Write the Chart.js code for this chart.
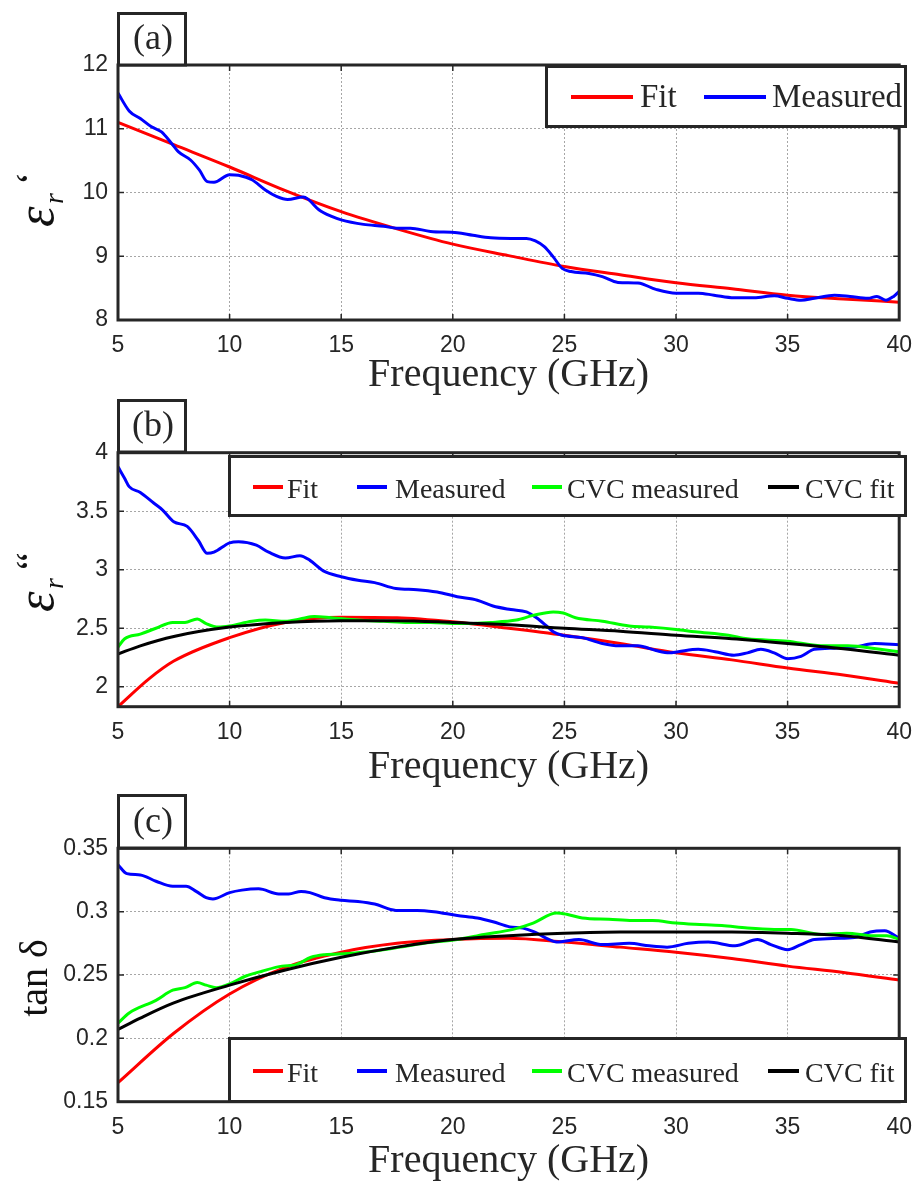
<!DOCTYPE html>
<html>
<head>
<meta charset="utf-8">
<script src="https://cdn.jsdelivr.net/npm/chart.js@4.4.1/dist/chart.umd.min.js"></script>
<style>
  body { margin: 0; background: #fff; }
  canvas.panel { position: absolute; left: 0; }
</style>
</head>
<body>
<canvas id="panelA" class="panel" width="924" height="395" style="top:0px"></canvas>
<canvas id="panelB" class="panel" width="924" height="395" style="top:395px"></canvas>
<canvas id="panelC" class="panel" width="924" height="395" style="top:790px"></canvas>
<script>
let xTicks = [5, 10, 15, 20, 25, 30, 35, 40];

// (a) real part of permittivity
let yTicksA = [8, 9, 10, 11, 12];
let freqA_meas = [5.0, 5.5, 6.0, 6.5, 6.95, 7.4, 7.7, 8.25, 8.65, 9.0, 9.3, 10.0, 10.4, 11.0, 11.6, 12.1, 12.6, 13.3, 13.5, 14.0, 14.6, 15.0, 16.0, 16.9, 17.5, 18.1, 19.0, 20.2, 20.9, 21.7, 22.6, 23.3, 23.7, 24.1, 24.5, 24.9, 25.3, 26.1, 26.7, 27.4, 28.3, 29.1, 30.0, 31.0, 31.7, 32.6, 33.5, 34.4, 35.0, 35.6, 36.2, 37.1, 37.8, 38.6, 39.0, 39.4, 39.75, 40.0];
let epsA_meas = [11.56, 11.28, 11.16, 11.03, 10.95, 10.77, 10.64, 10.51, 10.35, 10.17, 10.16, 10.28, 10.27, 10.2, 10.04, 9.94, 9.89, 9.93, 9.9, 9.73, 9.62, 9.57, 9.5, 9.47, 9.44, 9.44, 9.39, 9.37, 9.33, 9.29, 9.28, 9.28, 9.24, 9.15, 8.99, 8.81, 8.76, 8.73, 8.68, 8.59, 8.58, 8.48, 8.42, 8.42, 8.39, 8.35, 8.35, 8.38, 8.34, 8.31, 8.34, 8.39, 8.37, 8.34, 8.37, 8.31, 8.37, 8.45];
let freqA_fit = [5, 7.5, 10, 12.5, 15, 17.5, 20, 22.5, 25, 27.5, 30, 32.5, 35, 37.5, 40];
let epsA_fit = [11.10, 10.75, 10.40, 10.03, 9.70, 9.43, 9.19, 9.01, 8.84, 8.71, 8.585, 8.49, 8.39, 8.33, 8.28];

// (b) imaginary part of permittivity
let yTicksB = [2, 2.5, 3, 3.5, 4];
let freqB_meas = [5.0, 5.3, 5.5, 6.0, 6.6, 7.0, 7.5, 8.1, 8.6, 9.0, 9.3, 10.0, 10.4, 11.2, 11.75, 12.5, 13.15, 13.6, 14.2, 15.0, 15.75, 16.5, 17.45, 18.4, 19.3, 20.2, 21.1, 21.8, 22.6, 23.3, 23.75, 24.2, 24.5, 24.9, 25.8, 26.7, 27.45, 28.3, 29.1, 29.7, 30.1, 31.0, 31.75, 32.6, 33.2, 33.8, 34.4, 35.0, 35.6, 36.2, 37.1, 38.0, 38.9, 40.0];
let epsB_meas = [3.88, 3.78, 3.71, 3.66, 3.57, 3.51, 3.41, 3.37, 3.25, 3.14, 3.15, 3.23, 3.24, 3.21, 3.15, 3.10, 3.12, 3.08, 2.99, 2.94, 2.91, 2.89, 2.84, 2.83, 2.81, 2.77, 2.74, 2.69, 2.66, 2.64, 2.59, 2.52, 2.47, 2.44, 2.42, 2.37, 2.35, 2.35, 2.31, 2.29, 2.30, 2.32, 2.30, 2.27, 2.29, 2.32, 2.29, 2.24, 2.26, 2.32, 2.33, 2.34, 2.37, 2.36];
let freqB_fit = [5, 6.4, 7.5, 10, 12.5, 15, 17.5, 20, 22.5, 25, 27.5, 30, 32.5, 35, 37.5, 40];
let epsB_fit = [1.83, 2.07, 2.22, 2.42, 2.55, 2.595, 2.59, 2.555, 2.50, 2.44, 2.37, 2.29, 2.23, 2.16, 2.10, 2.03];
let freqB_cvcMeas = [5.0, 5.3, 6.0, 6.7, 7.45, 8.0, 8.55, 8.95, 9.5, 10.0, 11.0, 11.6, 12.5, 13.15, 13.8, 14.55, 15.75, 16.9, 18.0, 19.0, 20.2, 21.7, 22.85, 23.6, 24.5, 24.95, 25.5, 26.7, 27.9, 28.8, 30.0, 30.85, 32.35, 33.2, 35.0, 36.5, 37.7, 39.15, 40.0];
let epsB_cvcMeas = [2.34, 2.41, 2.45, 2.50, 2.55, 2.55, 2.58, 2.54, 2.51, 2.52, 2.56, 2.57, 2.56, 2.58, 2.60, 2.59, 2.57, 2.56, 2.55, 2.55, 2.54, 2.55, 2.57, 2.61, 2.64, 2.63, 2.59, 2.56, 2.52, 2.51, 2.49, 2.47, 2.44, 2.41, 2.39, 2.35, 2.35, 2.32, 2.30];
let freqB_cvcFit = [5, 6, 7.5, 10, 12.5, 15, 17.5, 20, 22.5, 25, 27.5, 30, 32.5, 35, 37.5, 40];
let epsB_cvcFit = [2.28, 2.35, 2.43, 2.51, 2.55, 2.565, 2.565, 2.55, 2.53, 2.50, 2.475, 2.44, 2.41, 2.37, 2.325, 2.27];

// (c) loss tangent
let yTicksC = [0.15, 0.2, 0.25, 0.3, 0.35];
let freqC_meas = [5.0, 5.4, 6.0, 6.7, 7.45, 8.05, 8.5, 8.95, 9.25, 10.0, 10.55, 11.3, 12.2, 12.65, 13.2, 13.6, 14.25, 15.0, 15.75, 16.5, 17.45, 18.4, 19.15, 20.2, 21.1, 21.8, 22.55, 23.15, 23.65, 24.2, 24.65, 25.65, 26.7, 27.9, 28.8, 29.6, 30.55, 31.45, 32.65, 33.65, 34.25, 35.0, 35.6, 36.2, 37.4, 38.1, 38.7, 39.35, 40.0];
let tanC_meas = [0.337, 0.330, 0.329, 0.324, 0.320, 0.320, 0.316, 0.311, 0.310, 0.315, 0.317, 0.318, 0.314, 0.314, 0.316, 0.315, 0.311, 0.309, 0.308, 0.306, 0.301, 0.301, 0.300, 0.297, 0.295, 0.292, 0.288, 0.287, 0.284, 0.279, 0.276, 0.278, 0.274, 0.275, 0.273, 0.272, 0.275, 0.276, 0.273, 0.278, 0.274, 0.270, 0.274, 0.278, 0.279, 0.280, 0.284, 0.285, 0.279];
let freqC_fit = [5, 7.5, 10, 12.5, 15, 17.5, 20, 22.5, 25, 27.5, 30, 32.5, 35, 37.5, 40];
let tanC_fit = [0.165, 0.204, 0.235, 0.256, 0.268, 0.275, 0.278, 0.279, 0.276, 0.272, 0.268, 0.263, 0.257, 0.252, 0.246];
let freqC_cvcMeas = [5.0, 5.5, 6.7, 7.45, 8.0, 8.55, 8.95, 9.4, 10.0, 10.7, 11.45, 12.35, 12.95, 13.65, 14.25, 15.3, 16.5, 17.65, 18.7, 20.2, 21.4, 22.7, 23.6, 24.65, 25.1, 25.8, 27.0, 28.05, 28.95, 30.0, 30.85, 32.05, 33.2, 34.4, 35.15, 36.5, 37.65, 38.85, 39.45, 40.0];
let tanC_cvcMeas = [0.212, 0.220, 0.230, 0.238, 0.240, 0.244, 0.242, 0.240, 0.243, 0.249, 0.253, 0.257, 0.258, 0.264, 0.266, 0.267, 0.269, 0.272, 0.275, 0.278, 0.282, 0.286, 0.291, 0.299, 0.298, 0.295, 0.294, 0.293, 0.293, 0.291, 0.290, 0.289, 0.287, 0.286, 0.286, 0.282, 0.283, 0.281, 0.281, 0.278];
let freqC_cvcFit = [5, 6, 7.5, 10, 12.5, 15, 17.5, 20, 22.5, 25, 27.5, 30, 32.5, 35, 37.5, 40];
let tanC_cvcFit = [0.207, 0.216, 0.228, 0.242, 0.254, 0.264, 0.272, 0.278, 0.281, 0.283, 0.284, 0.284, 0.284, 0.283, 0.281, 0.276];


let ink = "#262626";
let gridColor = "#a6a6a6";
Chart.defaults.font.family = "'Liberation Sans', Arial, sans-serif";

function pairs(xs, ys) {
  return xs.map((x, i) => ({ x: x, y: ys[i] }));
}

function serie(label, color, xs, ys, order) {
  return {
    label: label,
    data: pairs(xs, ys),
    borderColor: color,
    backgroundColor: color,
    borderWidth: 3,
    pointRadius: 0,
    fill: false,
    cubicInterpolationMode: "monotone",
    order: order,
  };
}

// y axis titles, drawn by hand for the subscript
function drawEps(ctx, bx, by, marks) {
  ctx.save();
  ctx.translate(bx, by);
  ctx.rotate(-Math.PI / 2);
  ctx.fillStyle = "#111";
  ctx.textAlign = "left";
  ctx.textBaseline = "alphabetic";
  ctx.font = "italic 52px 'Liberation Serif'";
  ctx.fillText("ε", 0, 0);
  ctx.font = "italic 28px 'Liberation Serif'";
  ctx.fillText("r", 23, 10);
  ctx.font = "40px 'Liberation Serif'";
  ctx.fillText(marks, 42, -9);
  ctx.restore();
}

function drawTan(ctx, bx, cy) {
  ctx.save();
  ctx.translate(bx, cy);
  ctx.rotate(-Math.PI / 2);
  ctx.fillStyle = "#111";
  ctx.textAlign = "center";
  ctx.textBaseline = "alphabetic";
  ctx.font = "40px 'Liberation Serif'";
  ctx.fillText("tan δ", 0, 0);
  ctx.restore();
}

function makeDecor(cfg) {
  return {
    id: "decor" + cfg.tag,
    afterDatasetsDraw(chart) {
      let ctx = chart.ctx;
      let area = chart.chartArea;
      let sx = chart.scales.x;
      let sy = chart.scales.y;
      ctx.save();

      // small inward ticks like matlab
      ctx.strokeStyle = ink;
      ctx.lineWidth = 1.5;
      ctx.beginPath();
      sx.ticks.forEach((t) => {
        let px = sx.getPixelForValue(t.value);
        ctx.moveTo(px, area.bottom);
        ctx.lineTo(px, area.bottom - 6);
        ctx.moveTo(px, area.top);
        ctx.lineTo(px, area.top + 6);
      });
      sy.ticks.forEach((t) => {
        let py = sy.getPixelForValue(t.value);
        ctx.moveTo(area.left, py);
        ctx.lineTo(area.left + 6, py);
        ctx.moveTo(area.right, py);
        ctx.lineTo(area.right - 6, py);
      });
      ctx.stroke();

      // plot box
      ctx.lineWidth = 3;
      ctx.strokeRect(area.left, area.top, area.right - area.left, area.bottom - area.top);

      // panel tag
      ctx.fillStyle = "#fff";
      ctx.fillRect(118.5, cfg.tagBox[0] + 1.5, 67, cfg.tagBox[1] - cfg.tagBox[0] - 1.5);
      ctx.strokeRect(118.5, cfg.tagBox[0] + 1.5, 67, cfg.tagBox[1] - cfg.tagBox[0] - 1.5);
      ctx.fillStyle = ink;
      ctx.font = "36px 'Liberation Serif'";
      ctx.textAlign = "center";
      ctx.textBaseline = "middle";
      ctx.fillText(cfg.tag, 153, cfg.tagY);

      // legend
      let lg = cfg.legend;
      let b = lg.box;
      ctx.fillStyle = "#fff";
      ctx.fillRect(b[0] + 1.5, b[1] + 1.5, b[2] - b[0] - 3, b[3] - b[1] - 3);
      ctx.strokeStyle = ink;
      ctx.lineWidth = 3;
      ctx.strokeRect(b[0] + 1.5, b[1] + 1.5, b[2] - b[0] - 3, b[3] - b[1] - 3);
      ctx.font = lg.size + "px 'Liberation Serif'";
      ctx.textAlign = "left";
      ctx.textBaseline = "alphabetic";
      chart.data.datasets.forEach((ds, i) => {
        let e = lg.entries[i];
        ctx.strokeStyle = ds.borderColor;
        ctx.lineWidth = 4;
        ctx.beginPath();
        ctx.moveTo(e[0], lg.lineY);
        ctx.lineTo(e[1], lg.lineY);
        ctx.stroke();
        ctx.fillStyle = ink;
        ctx.fillText(ds.label, e[2], lg.textY);
      });

      // y title
      if (cfg.yTitle.kind == "eps") {
        drawEps(ctx, cfg.yTitle.bx, cfg.yTitle.by, cfg.yTitle.marks);
      } else {
        drawTan(ctx, cfg.yTitle.bx, cfg.yTitle.by);
      }
      ctx.restore();
    },
  };
}

function makePanel(cfg) {
  return new Chart(document.getElementById(cfg.id), {
    type: "line",
    data: { datasets: cfg.datasets },
    options: {
      responsive: false,
      animation: false,
      devicePixelRatio: 1,
      layout: { padding: { top: cfg.top, right: 18, left: 0, bottom: 0 } },
      plugins: { legend: { display: false }, tooltip: { enabled: false } },
      scales: {
        x: {
          type: "linear",
          min: 5,
          max: 40,
          afterBuildTicks: (s) => { s.ticks = xTicks.map((v) => ({ value: v })); },
          afterFit: (s) => { s.height = 395 - cfg.bottom; },
          grid: { color: gridColor, lineWidth: 1, drawTicks: false },
          border: { display: false, dash: [2, 2] },
          ticks: {
            padding: 12,
            color: ink,
            maxRotation: 0,
            autoSkip: false,
            font: { family: "'Liberation Sans'", size: 23 },
          },
          title: {
            display: true,
            text: "Frequency (GHz)",
            color: ink,
            font: { family: "'Liberation Serif'", size: 40, lineHeight: 1 },
            padding: { top: 0, bottom: cfg.titlePad },
          },
        },
        y: {
          type: "linear",
          min: cfg.yMin,
          max: cfg.yMax,
          afterBuildTicks: (s) => { s.ticks = cfg.yTicks.map((v) => ({ value: v })); },
          afterFit: (s) => { s.width = 118; },
          grid: { color: gridColor, lineWidth: 1, drawTicks: false },
          border: { display: false, dash: [2, 2] },
          ticks: {
            padding: 10,
            color: ink,
            autoSkip: false,
            font: { family: "'Liberation Sans'", size: 23 },
            callback: (v) => String(+v.toFixed(3)),
          },
        },
      },
    },
    plugins: [makeDecor(cfg)],
  });
}

makePanel({
  id: "panelA",
  tag: "(a)",
  top: 65,
  bottom: 320,
  yMin: 8,
  yMax: 12,
  yTicks: yTicksA,
  titlePad: 0,
  tagBox: [12, 65],
  tagY: 40,
  legend: { box: [545, 65, 907, 128], lineY: 97, textY: 107, size: 33, entries: [[571, 633, 640], [704, 766, 772]] },
  yTitle: { kind: "eps", bx: 53, by: 227, marks: "‘" },
  datasets: [
    serie("Fit", "#ff0000", freqA_fit, epsA_fit, 2),
    serie("Measured", "#0000ff", freqA_meas, epsA_meas, 1),
  ],
});

makePanel({
  id: "panelB",
  tag: "(b)",
  top: 57.7,
  bottom: 311.7,
  yMin: 1.83,
  yMax: 4,
  yTicks: yTicksB,
  titlePad: 2.5,
  tagBox: [4, 57],
  tagY: 32,
  legend: { box: [228, 60, 907, 122], lineY: 92, textY: 103, size: 28, entries: [[253, 283, 287], [357, 387, 395], [532, 562, 567], [768, 799, 805]] },
  yTitle: { kind: "eps", bx: 53, by: 217, marks: "“" },
  datasets: [
    serie("Fit", "#ff0000", freqB_fit, epsB_fit, 4),
    serie("Measured", "#0000ff", freqB_meas, epsB_meas, 3),
    serie("CVC measured", "#00ff00", freqB_cvcMeas, epsB_cvcMeas, 2),
    serie("CVC fit", "#000000", freqB_cvcFit, epsB_cvcFit, 1),
  ],
});

makePanel({
  id: "panelC",
  tag: "(c)",
  top: 58.3,
  bottom: 311.7,
  yMin: 0.15,
  yMax: 0.35,
  yTicks: yTicksC,
  titlePad: 4,
  tagBox: [4, 58],
  tagY: 32.5,
  legend: { box: [228, 247, 907, 313], lineY: 281, textY: 292, size: 28, entries: [[253, 283, 287], [357, 387, 395], [532, 562, 567], [768, 799, 805]] },
  yTitle: { kind: "tan", bx: 47, by: 188 },
  datasets: [
    serie("Fit", "#ff0000", freqC_fit, tanC_fit, 4),
    serie("Measured", "#0000ff", freqC_meas, tanC_meas, 3),
    serie("CVC measured", "#00ff00", freqC_cvcMeas, tanC_cvcMeas, 2),
    serie("CVC fit", "#000000", freqC_cvcFit, tanC_cvcFit, 1),
  ],
});
</script>
</body>
</html>
